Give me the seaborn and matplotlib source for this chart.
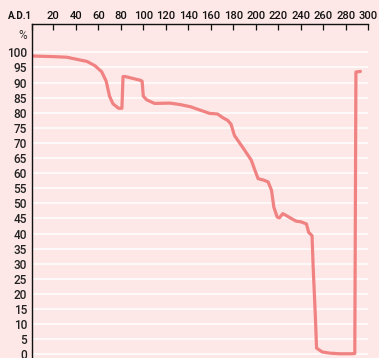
import matplotlib
matplotlib.use("Agg")
import matplotlib.pyplot as plt
import seaborn as sns
import pandas as pd

years = [1, 20, 32, 41, 50, 57, 63, 67, 70, 73, 78, 81, 82, 84, 98, 99, 100, 103,
         110, 124, 133, 142, 148, 159, 166, 171, 175, 178, 181, 189, 196, 199, 202,
         207, 211, 214, 216, 219, 221, 224, 227, 232, 236, 240, 245, 247, 250, 251,
         253, 254, 259, 266, 275, 285, 288, 289, 293]
pct = [98.8, 98.6, 98.4, 97.7, 97.0, 95.6, 93.6, 90.5, 85.5, 83.0, 81.5, 81.5, 92.0,
       92.0, 90.7, 90.4, 85.5, 84.3, 83.1, 83.2, 82.7, 82.0, 81.2, 79.8, 79.6, 78.3,
       77.5, 76.2, 72.5, 68.2, 64.3, 61.2, 58.2, 57.7, 57.1, 54.3, 48.8, 45.5, 45.2,
       46.6, 46.0, 44.9, 44.1, 43.9, 43.2, 40.4, 39.3, 28.8, 12.1, 2.1, 0.8, 0.4,
       0.2, 0.2, 0.3, 93.5, 93.7]

x_ticks = [1, 20, 40, 60, 80, 100, 120, 140, 160, 180, 200, 220, 240, 260, 280, 300]
x_labels = ["A.D.1"] + [str(v) for v in x_ticks[1:]]
y_ticks = list(range(0, 101, 5))

bg = "#fde8e7"
line_color = "#f08282"

sns.set_theme(style="white")
plt.rcParams["font.family"] = ["Roboto", "DejaVu Sans"]

fig = plt.figure(figsize=(3.79, 3.58), dpi=100, facecolor=bg)
ax = fig.add_axes([31.9 / 379, 0, 336.4 / 379, 334 / 358])
ax.set_facecolor(bg)

df = pd.DataFrame({"year": years, "pct": pct})
sns.lineplot(data=df, x="year", y="pct", sort=False, estimator=None, ax=ax,
             color=line_color, linewidth=2.3, solid_joinstyle="round",
             solid_capstyle="round")

ax.set_xlim(1, 300)
ax.set_ylim(-1.2, 109.4)
ax.set_xlabel("")
ax.set_ylabel("")

for y in y_ticks:
    ax.axhline(y, color="white", linewidth=1.1, zorder=0)

ax.xaxis.tick_top()
ax.set_xticks(x_ticks)
ax.set_xticklabels(x_labels)
ax.set_yticks(y_ticks)
ax.set_yticklabels([str(v) for v in y_ticks])
ax.tick_params(axis="x", direction="in", length=4.3, width=0.9, color="#111111",
               pad=2.5, labelsize=8, labelcolor="#111111")
ax.tick_params(axis="y", length=0, pad=3.5, labelsize=8.5, labelcolor="#222222")
first = ax.get_xticklabels()[0]
first.set_ha("right")
first.set_fontsize(7)
first.set_fontweight("bold")
for t in ax.get_xticklabels()[1:]:
    t.set_fontweight("medium")
for t in ax.get_yticklabels():
    t.set_fontweight("medium")

for side in ["right", "bottom"]:
    ax.spines[side].set_visible(False)
for side in ["top", "left"]:
    ax.spines[side].set_visible(True)
    ax.spines[side].set_color("#111111")
    ax.spines[side].set_linewidth(1.0)

ax.text(-0.016, 105.6, "%", transform=ax.get_yaxis_transform(), ha="right",
        va="center", fontsize=8.5, color="#333333")

fig.savefig("out.png", dpi=100, facecolor=bg)
